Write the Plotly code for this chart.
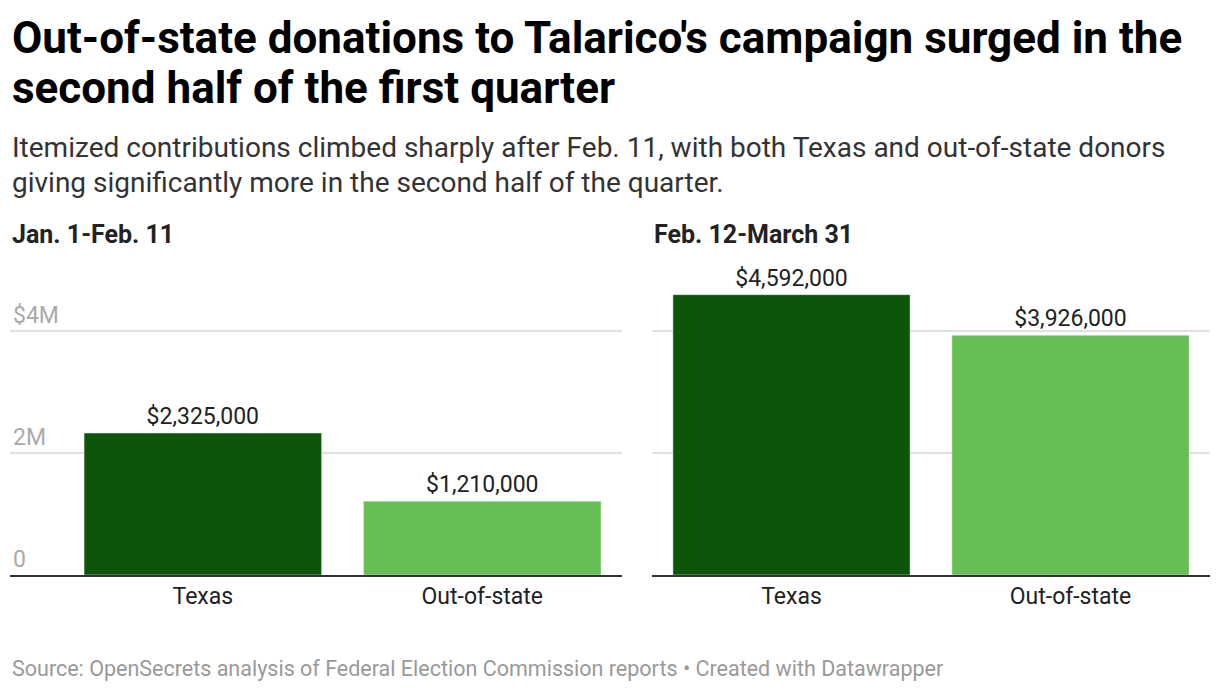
import plotly.graph_objects as go
from plotly.subplots import make_subplots

categories = ["Texas", "Out-of-state"]
period1 = [2325000, 1210000]
period2 = [4592000, 3926000]
labels1 = ["$2,325,000", "$1,210,000"]
labels2 = ["$4,592,000", "$3,926,000"]
colors = ["#0d5509", "#66bf52"]

fig = make_subplots(rows=1, cols=2)
fig.add_trace(go.Bar(x=categories, y=period1, text=labels1, textposition="outside",
                     marker_color=colors, cliponaxis=False, width=0.85,
                     constraintext="none"), 1, 1)
fig.add_trace(go.Bar(x=categories, y=period2, text=labels2, textposition="outside",
                     marker_color=colors, cliponaxis=False, width=0.85,
                     constraintext="none"), 1, 2)
fig.update_traces(textfont=dict(size=23, color="#222"), hoverinfo="skip")

H = 692
W = 1220
OFF = 8  # page offset

def fy(px):
    return 1 - (px - OFF) / H

def fx(px):
    return (px - OFF) / W

fig.update_layout(
    width=1220, height=692, showlegend=False,
    paper_bgcolor="white", plot_bgcolor="white",
    margin=dict(l=0, r=0, t=0, b=0),
    font=dict(family="Roboto", color="#333"),
    xaxis=dict(domain=[fx(10), fx(622)], range=[-0.69, 1.5]),
    xaxis2=dict(domain=[fx(652), fx(1210)], range=[-0.5, 1.5]),
    yaxis=dict(domain=[fy(575), fy(285)], range=[0, 4750000],
               tickvals=[0, 2000000, 4000000], ticktext=["0", "2M", "$4M"],
               ticklabelposition="inside top", tickfont=dict(size=23, color="#aaa")),
    yaxis2=dict(domain=[fy(575), fy(285)], range=[0, 4750000],
                tickvals=[0, 2000000, 4000000], showticklabels=False),
)
fig.update_xaxes(showline=True, linecolor="#333", linewidth=1.5, ticks="",
                 tickfont=dict(size=23, color="#222"), showgrid=False, fixedrange=True)
fig.update_yaxes(showgrid=True, gridcolor="#e0e0e0", gridwidth=1.5, zeroline=False,
                 fixedrange=True)

ann = [
    dict(text="<b>Out-of-state donations to Talarico's campaign surged in the</b>",
         x=10, y=10, font=dict(size=44, color="#000")),
    dict(text="<b>second half of the first quarter</b>",
         x=10, y=60, font=dict(size=44, color="#000")),
    dict(text="Itemized contributions climbed sharply after Feb. 11, with both Texas and out-of-state donors",
         x=10, y=129, font=dict(size=28, color="#333")),
    dict(text="giving significantly more in the second half of the quarter.",
         x=10, y=164, font=dict(size=28, color="#333")),
    dict(text="<b>Jan. 1-Feb. 11</b>", x=10, y=218, font=dict(size=25, color="#222")),
    dict(text="<b>Feb. 12-March 31</b>", x=652, y=218, font=dict(size=25, color="#222")),
    dict(text="Source: OpenSecrets analysis of Federal Election Commission reports • Created with Datawrapper",
         x=10, y=654, font=dict(size=21.5, color="#999")),
]
for a in ann:
    fig.add_annotation(text=a["text"], x=fx(a["x"]), y=fy(a["y"]), xref="paper", yref="paper",
                       xanchor="left", yanchor="top", align="left", showarrow=False,
                       font=dict(family="Roboto", **a["font"]))

fig.write_html("out.html")
